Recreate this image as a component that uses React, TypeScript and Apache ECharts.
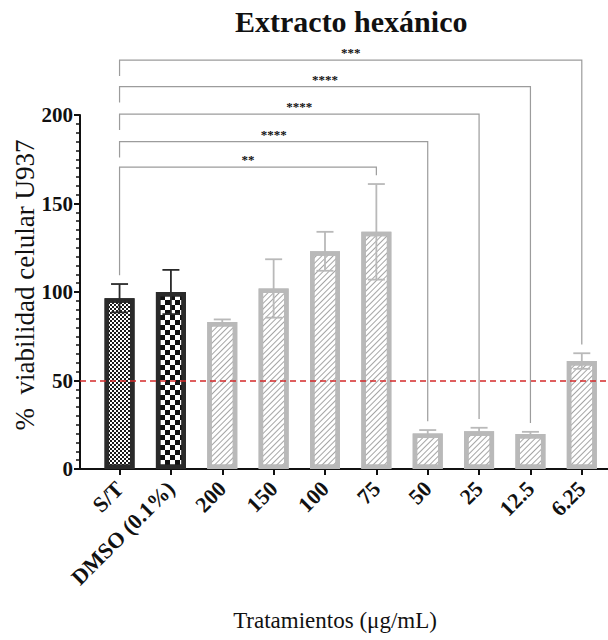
import React, { useEffect, useRef } from 'react';
import * as echarts from 'echarts';

const categories = ['S/T', 'DMSO (0.1%)', '200', '150', '100', '75', '50', '25', '12.5', '6.25'];
const categoryIndex = [0, 1, 2, 3, 4, 5, 6, 7, 8, 9];
const means = [96.5, 100, 83, 102, 123, 134, 20, 21.3, 19.8, 61];
const sds = [8, 12.5, 1.5, 16.5, 11, 27, 2, 2, 1.2, 4.4];
const barKinds = ['fine', 'coarse', 'hatch', 'hatch', 'hatch', 'hatch', 'hatch', 'hatch', 'hatch', 'hatch'];
const threshold = 50;

const bracketFrom = [0, 0, 0, 0, 0];
const bracketTo = [9, 8, 7, 6, 5];
const bracketLevels = [231, 216, 200.5, 185, 170.5];
const bracketLabels = ['***', '****', '****', '****', '**'];

const FONT = 'Liberation Serif';
const DARK = '#2a2a2a';
const GRAY = '#b9b9b9';

const decals: Record<string, any> = {
  fine: {
    symbol: 'rect', symbolSize: 1,
    dashArrayX: [[2, 2], [0, 2, 2, 0]], dashArrayY: [2, 0],
    color: '#1a1a1a', backgroundColor: '#ffffff',
  },
  coarse: {
    symbol: 'rect', symbolSize: 1,
    dashArrayX: [[5, 5], [0, 5, 5, 0]], dashArrayY: [5, 0],
    color: '#111111', backgroundColor: '#ffffff',
  },
  hatch: {
    symbol: 'rect', symbolSize: 1,
    dashArrayX: [1, 0], dashArrayY: [1, 3],
    rotation: -Math.PI / 4,
    color: '#a5a5a5', backgroundColor: '#ffffff',
  },
};

export default function App() {
  const ref = useRef<HTMLDivElement>(null);
  useEffect(() => {
    if (!ref.current) return;
    const chart = echarts.init(ref.current, null, { renderer: 'svg' });
    const lowestLevel = Math.min(...bracketLevels);
    const legGap = 5;
    const shortLeg = 9;

    const barData = categoryIndex.map((i) => ({
      value: [i, means[i]],
      itemStyle: {
        color: '#ffffff',
        borderColor: barKinds[i] === 'hatch' ? GRAY : DARK,
        borderWidth: 4.5,
        decal: decals[barKinds[i]],
      },
    }));

    const option: any = {
      animation: false,
      title: {
        text: 'Extracto hexánico',
        left: 230,
        top: 1,
        textStyle: { fontFamily: FONT, fontSize: 30, fontWeight: 'bold', color: '#111' },
      },
      grid: { left: 80, right: 0, top: 115, bottom: 171, containLabel: false, outerBoundsMode: 'none' },
      xAxis: {
        type: 'value',
        min: -0.77,
        max: 9.51,
        splitLine: { show: false },
        axisLine: { show: true, onZero: false, lineStyle: { color: '#111', width: 2 } },
        axisTick: { show: true, customValues: categoryIndex, length: 6, lineStyle: { color: '#111', width: 2 } },
        axisLabel: {
          customValues: categoryIndex,
          rotate: 45,
          margin: 16,
          fontFamily: FONT,
          fontSize: 22,
          fontWeight: 'bold',
          color: '#111',
          formatter: (v: number) => categories[Math.round(v)] ?? '',
        },
        name: 'Tratamientos (μg/mL)',
        nameLocation: 'middle',
        nameGap: 140,
        nameMoveOverlap: false,
        nameTextStyle: { fontFamily: FONT, fontSize: 23, color: '#111', padding: [0, 18, 0, 0] },
      },
      yAxis: {
        type: 'value',
        min: 0,
        max: 200,
        interval: 50,
        splitLine: { show: false },
        axisLine: { show: true, onZero: false, lineStyle: { color: '#111', width: 2 } },
        axisTick: { show: true, length: 6, lineStyle: { color: '#111', width: 2 } },
        minorTick: { show: true, splitNumber: 10, length: 4, lineStyle: { color: '#111', width: 1.5 } },
        axisLabel: { fontFamily: FONT, fontSize: 21, fontWeight: 'bold', color: '#111', margin: 7 },
        name: '%  viabilidad celular U937',
        nameLocation: 'middle',
        nameGap: 42,
        nameMoveOverlap: false,
        nameTextStyle: { fontFamily: FONT, fontSize: 27, color: '#111', padding: [0, 0, 0, 14] },
      },
      series: [
        {
          type: 'bar',
          data: barData,
          barWidth: 30,
          markLine: {
            silent: true,
            symbol: 'none',
            label: { show: false },
            lineStyle: { color: '#d42a2a', type: [6, 4], width: 1.6 },
            data: [{ yAxis: threshold }],
          },
        },
        {
          type: 'custom',
          clip: false,
          data: categoryIndex.map((i) => [i, means[i], sds[i]]),
          renderItem: (params: any, api: any) => {
            const i = api.value(0);
            const m = api.value(1);
            const s = api.value(2);
            const top = api.coord([i, m + s]);
            const bot = api.coord([i, m - s]);
            const color = barKinds[params.dataIndex] === 'hatch' ? GRAY : DARK;
            const half = 8.5;
            const st = { stroke: color, lineWidth: 1.8 };
            return {
              type: 'group',
              children: [
                { type: 'line', shape: { x1: top[0], y1: top[1], x2: bot[0], y2: bot[1] }, style: st },
                { type: 'line', shape: { x1: top[0] - half, y1: top[1], x2: top[0] + half, y2: top[1] }, style: st },
                { type: 'line', shape: { x1: bot[0] - half, y1: bot[1], x2: bot[0] + half, y2: bot[1] }, style: st },
              ],
            };
          },
          z: 5,
        },
        {
          type: 'custom',
          clip: false,
          data: bracketTo.map((t, k) => [t, bracketLevels[k]]),
          renderItem: (params: any, api: any) => {
            const k = params.dataIndex;
            const from = bracketFrom[k];
            const to = bracketTo[k];
            const lvl = bracketLevels[k];
            const leftEnd = lvl === lowestLevel ? means[from] + sds[from] + legGap : lvl - shortLeg;
            const rightEnd = means[to] + sds[to] + legGap;
            const p1 = api.coord([from, leftEnd]);
            const p2 = api.coord([from, lvl]);
            const p3 = api.coord([to, lvl]);
            const p4 = api.coord([to, rightEnd]);
            return {
              type: 'group',
              children: [
                {
                  type: 'polyline',
                  shape: { points: [p1, p2, p3, p4] },
                  style: { stroke: '#9c9c9c', lineWidth: 1.2, fill: null },
                },
                {
                  type: 'text',
                  x: (p2[0] + p3[0]) / 2,
                  y: p2[1] - 1,
                  style: {
                    text: bracketLabels[k],
                    fontFamily: FONT,
                    fontSize: 13,
                    fontWeight: 'bold',
                    fill: '#111',
                    align: 'center',
                    verticalAlign: 'bottom',
                  },
                },
              ],
            };
          },
          z: 6,
        },
      ],
    };
    chart.setOption(option);
    return () => chart.dispose();
  }, []);
  return (
    <div
      ref={ref}
      style={{ position: 'fixed', left: 0, top: 0, width: 608, height: 640, background: '#fff' }}
    />
  );
}
